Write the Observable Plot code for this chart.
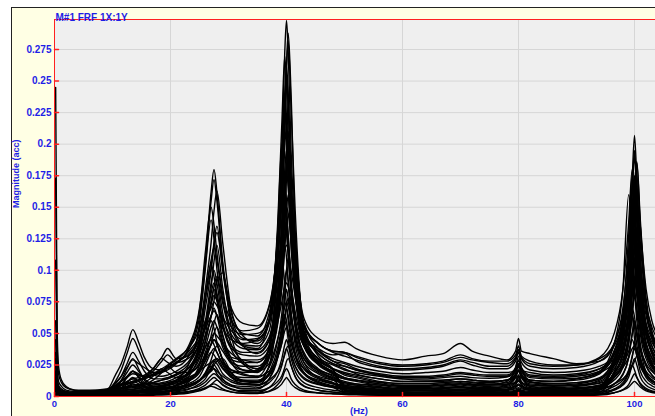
<!DOCTYPE html>
<html><head><meta charset="utf-8">
<script src="https://cdn.jsdelivr.net/npm/d3@7"></script>
<script src="https://cdn.jsdelivr.net/npm/@observablehq/plot@0.6"></script>
<style>
html,body{margin:0;padding:0;background:#fff;width:655px;height:416px;overflow:hidden;}
#panel{position:absolute;left:11px;top:7px;width:644px;height:409px;background:#ffffe4;border-top:1px solid #222;border-left:1px solid #222;box-sizing:border-box;}
#chart{position:absolute;left:0;top:0;}
</style></head><body><div id="panel"></div><div id="chart"></div>
<script>
// Frequency grid (Hz)
const freq = [0.2,0.45,0.7,1.2,2,3.5,6,9,
 10.5,11.5,12.5,13.5,14.5,15.5,17,18.5,19.5,21,23,25,
 26,27,27.5,28,29,30.5,32.5,35,37,
 38.5,39.2,39.7,40,40.3,40.8,41.5,43,45.5,48,
 50,52,56,60,64,67,70,72,75,78,79.5,80,80.5,82,86,90,94,
 96.5,98,99,99.6,100,100.4,101,102,103,104];

// FRF magnitudes, in thousandths of the y unit
const c01 = [245,55,24,13,8,5,4,5, 11,16,23,29,26,23,19,20,24,29,39,70, 107,162,180,162,107,66,50,48,66, 129,194,273,298,273,194,129,58,38,28, 24,21,17,14,13,13,14,13,12,13,17,21,17,13,12,14,19, 33,57,103,160,190,160,103,64,48,39];
const c02 = [173,42,18,11,7,5,5,6, 9,12,15,18,17,16,17,19,21,26,37,68, 114,150,136,114,81,60,52,54,71, 120,163,218,263,288,238,130,62,46,42, 43,38,32,29,32,34,42,36,32,29,36,46,36,34,30,26,28, 40,62,105,165,195,165,110,72,55,45];
const c03 = [108,28,12,8,5,4,4,5, 17,26,39,53,43,31,22,21,23,27,36,63, 104,155,172,155,104,62,46,44,60, 139,217,270,247,202,147,104,52,34,26, 22,18,14,12,12,12,14,13,12,13,20,25,20,13,12,13,18, 36,60,110,172,207,172,110,68,50,40];
const c04 = [60,18,9,6,4,3,3,4, 8,10,12,14,15,17,22,30,27,24,31,52, 85,122,147,163,122,68,48,42,58, 117,172,240,262,240,172,117,50,34,26, 24,21,17,15,15,16,18,17,16,16,22,28,22,16,15,16,20, 36,65,128,175,148,110,75,48,36,30];
const c05 = [45,14,8,5,4,3,3,4, 8,10,11,12,13,15,22,31,38,30,32,46, 77,108,118,108,77,55,49,50,60, 131,196,240,221,183,137,101,48,38,33, 34,28,23,21,22,24,28,25,22,22,28,35,27,21,19,20,24, 33,52,78,110,138,160,122,70,48,38];
const c06 = [30,10,6,4,3,2.5,3,4, 10,16,26,35,28,20,14,14,15,18,25,45, 79,105,95,79,56,40,35,35,45, 96,141,197,215,197,141,96,45,30,22, 18,16,12,10,10,11,12,11,10,11,18,24,18,11,10,11,15, 30,52,80,118,157,185,135,72,46,34];
const c07 = [20,8,5,4,3,3,3,4, 7,9,10,12,13,15,18,22,25,30,38,55, 78,102,120,130,102,70,58,56,72, 127,185,225,208,174,132,100,58,42,36, 35,32,27,25,26,28,33,30,28,28,33,40,32,28,25,25,30, 42,70,115,150,130,105,78,55,43,36];
const c08 = [15,6,4,3,2,2,2,3, 7,12,19,25,20,14,10,10,11,13,19,36, 56,82,90,82,56,38,33,32,40, 80,119,165,180,165,119,80,40,26,19, 15,13,10,8,8,9,10,9,8,9,15,21,15,9,8,9,12, 25,44,80,126,150,126,80,48,34,27];
const c09 = [12,5,3,2,2,1.5,2,3, 5,6,8,10,9,11,16,22,19,15,18,30, 44,64,70,64,44,31,29,27,37, 63,88,120,147,160,129,84,40,25,18, 14,12,9,7,7,8,9,8,7,8,12,17,12,8,7,8,11, 22,38,70,110,130,110,70,42,30,23];
const c10 = [10,4,3,2,1.5,1.2,1.5,2.5, 5,9,15,20,16,11,8,8,9,10,13,22, 31,42,50,55,42,27,24,24,34, 63,92,128,140,128,92,63,33,21,15, 12,10,8,6,6,7,8,7,6,7,11,15,11,7,6,7,9, 18,30,47,68,92,110,80,42,27,20];
const c11 = [8,3.5,2.5,2,1.5,1,1.2,2, 4,4.5,5,5.5,6,6,6.5,7,7.5,9,12,19, 29,41,45,41,29,21,19,20,31, 63,97,120,110,90,66,47,27,18,13, 10,9,7,5,5,6,7,6,5.5,6,8,10,8,6,5,6,8, 15,27,50,80,95,80,50,30,21,16];
const c12 = [25,9,5,4,3,3,3,4, 7,9,10,11,13,14,17,20,22,27,35,48, 60,70,75,72,63,52,45,46,58, 98,124,145,150,145,124,98,55,42,35, 32,29,24,22,23,25,29,27,24,24,30,37,30,24,22,23,28, 42,65,90,120,150,175,135,85,60,48];
const c13 = [6,3,2,1.5,1,1,1,1.5, 4,7,11,15,12,8,6,6,6.5,7.5,10,16, 25,35,38,35,25,17,15,15,23, 45,66,92,100,92,66,45,24,15,11, 8,7,5.5,4.5,4.5,5,6,5,4.5,5,7,9,7,5,4.5,5,7, 13,23,42,67,80,67,42,25,17,13];
const c14 = [5,2.5,1.8,1.3,1,0.8,1,1.3, 3,3.3,3.6,4,4.2,4.5,5,5.5,6,7,9,13, 17,23,27,30,23,15,12,12,17, 31,43,59,72,78,63,41,22,14,10, 7,6,4.5,3.5,3.5,4,4.5,4,3.5,4,5,6,5,4,3.5,4,5.5, 15,26,47,65,55,41,28,18,13,10];
const c15 = [4,2,1.3,1,0.8,0.6,0.8,1, 2.5,4.5,7.5,10,8,5.5,4,4,4.5,5.5,7.5,12, 18,24,22,18,13,9,8,8.5,14, 31,48,60,55,45,33,24,15,10,7, 5.5,4.5,3.5,2.5,2.5,3,3.5,3,2.5,3,4,5,4,3,2.5,3,4, 8,13,21,31,42,50,37,19,13,10];
const c16 = [35,11,6,4,3,2.5,3,4, 12,21,34,46,37,26,17,16,17,20,27,42, 55,74,87,95,74,49,41,40,52, 110,155,212,259,282,227,147,52,36,28, 26,22,18,16,16,17,19,18,17,17,23,29,23,17,16,17,22, 35,58,92,130,165,186,140,78,52,40];
const c17 = [18,7,4,3,2,2,2,3, 6,7,8,9,9.5,10,11,13,14,17,22,35, 48,63,76,91,98,55,40,38,62, 133,200,162,133,111,87,67,40,28,22, 19,17,14,12,12,13,14,13,12,13,15,16,15,13,12,14,20, 42,85,160,125,88,70,52,36,28,23];
const c18 = [14,6,3.5,2.5,2,1.5,2,3, 5,6,6.5,7,7.5,8,9,10,11,13,17,27, 39,55,60,55,39,29,27,27,38, 86,128,179,195,179,128,86,42,27,20, 15,13,10,8,8,9,10,9,9,12,23,32,23,12,9,9,13, 27,48,88,138,165,138,88,52,37,29];
const c19 = [3,1.5,1,0.8,0.6,0.5,0.6,0.8, 1.8,2,2.2,2.4,2.6,2.8,3.2,3.6,4,4.6,6,8.5, 11.5,16.5,18,16.5,11.5,8,6.5,7,11, 20,30,41,45,41,30,20,11,7,5, 4,3.5,2.7,2.2,2.2,2.4,2.8,2.5,2.3,2.4,3.5,4.5,3.5,2.4,2.2,2.4,3.3, 6,11,20,32,38,32,20,12,8.5,6.5];
const c20 = [2,1,0.7,0.5,0.4,0.3,0.4,0.5, 1,1.1,1.2,1.3,1.5,1.6,1.9,2.2,2.5,3,4,5.5, 7,9.5,11.5,13,9.5,6,4.5,4.5,7, 12,16.5,23,28,30,24.5,15.5,8,5,3.5, 2.6,2.2,1.7,1.3,1.3,1.4,1.7,1.5,1.4,1.5,2,2.6,2,1.5,1.3,1.4,2, 5.5,9.5,18,25,21,15.5,10.5,6.5,4.5,3.5];
const c21 = [20,8,5,4,3,3,3,4, 7,9,10,11,13,14,17,20,23,27,33,45, 54,64,68,64,54,45,42,45,60, 122,171,231,250,231,171,122,56,42,36, 35,31,26,24,25,27,31,29,27,26,31,37,31,26,24,25,31, 50,85,138,180,155,120,85,58,46,38];
const c22 = [10,5,3,2.5,2,1.5,2,3, 5,6,7,8,8.5,9,10,11,12,15,22,42, 70,100,122,135,100,60,40,34,44, 82,115,158,193,210,169,109,45,30,22, 17,15,11,9,9,10,11,10,9.5,10,16,20,16,10,9,10,14, 30,52,95,148,175,148,95,56,40,31];
const c23 = [7,3,2,1.5,1.2,1,1.2,2, 4,6.5,9.5,12,10,7.5,6,6.5,7,8.5,12,20, 35,45,41,35,26,19,19,21,32, 58,86,119,130,119,86,58,30,19,14, 11,9,7,6,6,6.5,7,6.5,6.5,9,18,26,18,8,6,6.5,9, 19,34,63,100,120,100,63,37,26,20];
const c24 = [4,2,1.4,1,0.8,0.6,0.8,1.2, 2.7,3,3.3,3.6,4,4.2,4.8,5.4,6,7,9,13, 18,26,28,26,18,13,10.5,11,17, 32,47,64,70,64,47,32,18,11,8, 6.5,5.5,4.5,3.5,3.5,4,4.5,4,4,5.5,10,14,10,5,3.8,4,5.5, 10,17,31,49,58,49,31,18,13,10];
const c25 = [9,3,2,1.3,1,0.8,1,1.5, 2.5,3,3.5,4,4.5,5,6,7.5,9,13,24,58, 101,140,125,101,66,41,28,22,38, 114,183,230,210,170,120,82,44,26,18, 8,6.5,4.5,3.5,3,3.2,3.5,3.2,3,3.2,4.5,6,4.5,3.2,3,3.8,6, 27,49,100,140,117,84,55,34,24,18];
const c26 = [5,2,1.3,1,0.7,0.5,0.7,1.2, 8,13,22,30,22,13,7,5.5,6,9,17,38, 56,86,107,120,86,47,26,20,33, 67,99,140,173,190,151,93,47,27,19, 7,5.5,3.8,2.8,2.4,2.3,2.4,2.2,2.1,2.2,3,4,3,2.3,2.3,3,5.5, 19,33,57,92,110,92,57,33,23,17];
const c27 = [4,1.8,1.2,0.9,0.7,0.5,0.7,1.2, 2,2.3,2.6,3,3.3,3.6,4.5,5.5,6.5,9,15,33, 49,76,85,76,49,30,21,19,40, 104,162,232,255,232,162,104,56,32,22, 7,6,4.2,3.2,2.8,2.6,2.6,2.4,2.3,2.3,3,3.6,3,2.5,2.8,3.8,7, 28,50,88,142,170,142,88,51,35,26];
const c28 = [3,1.4,1,0.7,0.5,0.4,0.5,0.9, 5.5,9,15,20,15,9,5,4,4.5,6.5,11,25, 43,60,54,43,29,18,13,12,24, 83,135,170,155,125,88,60,33,20,14, 5,4,3,2.2,1.8,1.7,1.8,1.7,1.6,1.7,2.2,2.8,2.2,1.8,2,2.8,5, 24,37,60,91,126,150,107,54,34,25];
const c29 = [2,0.9,0.6,0.5,0.4,0.3,0.4,0.6, 1,1.2,1.4,1.6,1.8,2,2.5,3,3.5,5,7.5,13, 19,29,36,40,29,16,10,9,19, 39,57,81,100,110,87,54,27,15,11, 4,3,2,1.4,1.1,1,1,1,1,1.1,1.4,1.8,1.4,1.2,1.4,2,3.5, 19,35,71,100,83,60,39,24,17,13];
const c30 = [2,0.8,0.6,0.4,0.3,0.25,0.3,0.5, 0.8,0.9,1,1.2,1.3,1.5,1.9,2.4,2.8,3.8,5.5,10, 14,22,25,22,14,9,6,6,14, 35,54,77,85,77,54,35,19,11,7.5, 3,2.4,1.6,1.2,1,0.9,0.9,0.9,0.9,1,1.3,1.6,1.3,1.1,1.1,1.5,2.5, 10,18,31,50,60,50,31,18,12.5,9.5];
const c31 = [6,3.5,2.5,2,1.8,1.8,2.2,3.5, 5,6,7,8,9,10,11,13,14,17,22,31, 39,46,50,48,42,34,29,29,36, 59,75,87,90,87,75,59,40,30,25, 21,19,16,14,14,15,16,15,14.5,15.5,21,26,21,15,14,14.5,19, 27,40,60,80,90,82,62,42,31,25];
const c32 = [3,0.8,0.5,0.35,0.25,0.2,0.25,0.4, 0.6,0.7,0.8,0.9,1,1.1,1.4,1.7,2,2.6,3.7,6.5, 9,13.5,15,13.5,9,5.5,3.8,3.5,7, 16,24.5,34.5,38,34.5,24.5,16,8.5,5,3.5, 2.5,2,1.4,1,0.85,0.8,0.8,0.8,0.75,0.8,1,1.3,1,0.85,0.9,1.1,1.8, 5,9,15.5,25,30,25,15.5,9,6.3,4.8];
const c33 = [12,5,3.5,2.6,2.2,2.2,2.8,4.5, 8,12,16,20,18,16,20,28,33,27,30,42, 58,73,80,76,62,46,38,37,47, 79,100,116,120,116,100,79,46,36,30, 27,24,20,18,19,20,23,21,19,19,21,23,21,19,17,18,22, 30,45,63,85,104,120,92,55,40,32];
const c34 = [2,0.6,0.4,0.3,0.2,0.15,0.2,0.3, 0.45,0.5,0.55,0.6,0.7,0.8,1,1.2,1.4,1.8,2.6,4.5, 6,9,10,9,6,3.7,2.5,2.3,4.2, 9.5,14,20,22,20,14,9.5,5,3,2.1, 1.6,1.3,0.95,0.7,0.6,0.55,0.55,0.55,0.55,0.6,0.75,0.9,0.75,0.6,0.6,0.7,1.1, 3,5.5,9.5,15,18,15,9.5,5.5,3.8,2.9];
const c35 = [8,3,2,1.5,1.1,0.9,1.1,1.8, 3,3.5,4,4.5,5,5.5,6.5,7.5,8.5,11,19,40, 59,90,100,90,59,37,26,22,32, 76,120,150,137,112,80,56,35,22,16, 9,7.5,6,5,5,5.2,5.6,5.2,5,5.3,9,13,9,5.5,5,5.8,8, 30,52,102,140,117,86,57,36,26,20];
const c36 = [5,2,1.4,1,0.8,0.6,0.8,1.3, 2,2.3,2.6,3,3.3,3.7,4.5,5.5,6.5,8.5,13,22, 32,48,58,65,48,27,18,16,30, 71,104,147,182,200,159,99,50,29,21, 8,6.5,4.8,3.6,3.2,3.2,3.4,3.2,3.1,3.2,4,5,4,3.3,3.2,3.8,6, 17,27,42,63,85,100,73,38,25,19];
const c37 = [3,2.5,2.5,2.6,2.8,3,3.3,4, 4.5,5,5.5,6,6.5,7,7.5,8.5,9.5,11,14,20, 28,35,33,29,22,16,13,13,18, 35,52,65,60,50,38,28,18,13,10, 9,8,7,6.5,6.5,7,7.5,7,6.5,7,8,9,8,6.5,6,6.5,8, 15,24,36,45,40,33,24,16,12,10];
const c38 = [2,1.8,2,2.3,2.8,3.3,4,5, 6,7,7.5,8,7.5,7.5,8,9,10,12,15,20, 24,27,29,30,27,21,17,16,20, 32,42,52,55,52,42,32,22,16,13, 11,10,9,8.5,8.5,9,10,9.5,9,9.5,11,12,11,9,8.5,9,10.5, 16,23,31,38,40,37,29,20,15,12];
const c39 = [1.5,1.3,1.5,1.8,2,2.4,2.8,3.3, 3.6,3.9,4.2,4.5,4.7,4.9,5.3,5.8,6.3,7.2,9,12.5, 16,20,22,20,16,11.5,9.5,9.5,13, 20,26,33,38,40,34,24,14,9.5,7.5, 6.5,6,5.2,4.7,4.6,4.8,5.2,5,4.8,5,6,7,6,5,4.6,4.8,6, 10,14,19,24,28,32,25,15,10.5,8.5];
const c40 = [1,0.5,0.5,0.6,0.7,0.8,0.9,1, 1.1,1.2,1.3,1.4,1.5,1.6,1.8,2,2.2,2.6,3.4,4.8, 6.5,8,7.5,6.5,5,3.5,2.8,2.8,4, 7,10,13.5,15,13.5,10,7,4,2.8,2.2, 1.9,1.7,1.4,1.3,1.2,1.2,1.3,1.2,1.2,1.2,1.4,1.6,1.4,1.2,1.2,1.3,1.7, 3,5,7.5,10.5,12,10.5,7.5,4.5,3.2,2.5];
const c41 = [2.5,2,2.2,2.5,3,3.5,4.2,5.5, 7,9,11.5,14,12,10,13,19,24,19,19,25, 33,41,45,43,36,26,21,20,26, 46,60,71,75,71,60,46,30,21,17, 14,13,11.5,10.5,10.5,11,12,11.5,11,13,17,20,16,11.5,10.5,11,14, 25,39,56,70,63,51,38,26,20,16];
const c42 = [1.5,0.9,0.9,1,1.1,1.3,1.6,2, 2.2,2.4,2.6,2.8,3,3.2,3.6,4.2,4.8,6,8.5,13, 17,21,25,28,30,19,12,11,24, 70,110,88,72,60,45,33,19,12,8.5, 6.5,5.5,4,3.2,2.9,2.8,2.9,2.8,2.8,2.9,3.4,4,3.4,3,3,3.8,6.5, 20,45,85,66,46,36,26,17,12,9.5];

const curves = [c01,c02,c03,c04,c05,c06,c07,c08,c09,c10,c11,c12,c13,c14,c15,c16,c17,c18,c19,c20,c21,
                c22,c23,c24,c25,c26,c27,c28,c29,c30,c31,c32,c33,c34,c35,c36,c37,c38,c39,c40,c41,c42];

const yTicks = [0,0.025,0.05,0.075,0.1,0.125,0.15,0.175,0.2,0.225,0.25,0.275];
const yTickLabels = ["0","0.025","0.05","0.075","0.1","0.125","0.15","0.175","0.2","0.225","0.25","0.275"];
const xTicks = [0,20,40,60,80,100];
const xTickLabels = ["0","20","40","60","80","100"];
const title = "M#1 FRF 1X:1Y";
const yLabel = "Magnitude (acc)";
const xLabel = "(Hz)";
const xMax = 103.62;
const yMax = 0.2988;

curves.forEach((c, i) => { if (c.length !== freq.length) throw new Error(`curve ${i + 1} has ${c.length} values, expected ${freq.length}`); });
const rows = curves.flatMap((c, i) => c.map((v, j) => ({id: i, f: freq[j], m: v / 1000})));

const blue = "#1e1ee6";
const red = "#ff2020";
const tickShape = {draw(ctx, l) { ctx.moveTo(0, 0); ctx.lineTo(0, -l); }};
const font = {fill: blue, fontWeight: "bold"};

const chart = Plot.plot({
  width: 655, height: 416,
  marginLeft: 54, marginTop: 19, marginBottom: 20, marginRight: 0,
  style: {background: "transparent", fontFamily: "'Liberation Sans', Arial, sans-serif", overflow: "visible"},
  x: {domain: [0, xMax]},
  y: {domain: [0, yMax]},
  marks: [
    Plot.frame({fill: "#efefef", stroke: null}),
    Plot.gridX(xTicks, {stroke: "#d6d6d6", strokeOpacity: 1}),
    Plot.gridY(yTicks, {stroke: "#d6d6d6", strokeOpacity: 1}),
    Plot.line(rows, {x: "f", y: "m", z: "id", stroke: "#000", strokeWidth: 1.4, curve: "monotone-x", clip: true}),
    Plot.ruleX([0], {stroke: red}),
    Plot.ruleY([0], {stroke: red}),
    Plot.ruleY([yMax], {stroke: red}),
    Plot.vector(yTicks, {x: 0, y: d => d, rotate: 90, length: 4, anchor: "start", stroke: red, shape: tickShape}),
    Plot.vector(xTicks, {x: d => d, y: 0, length: 4, anchor: "start", stroke: red, shape: tickShape}),
    Plot.axisY(yTicks, {tickSize: 0, tickPadding: 3, color: blue, fontWeight: "bold", fontSize: 10, label: null,
      tickFormat: d => yTickLabels[yTicks.indexOf(d)]}),
    Plot.axisX(xTicks, {tickSize: 0, tickPadding: 4, color: blue, fontWeight: "bold", fontSize: 9.5, label: null,
      tickFormat: d => xTickLabels[xTicks.indexOf(d)]}),
    Plot.text([title], {text: d => d, frameAnchor: "top-left", dx: 1, dy: -6, textAnchor: "start", fontSize: 10, ...font}),
    Plot.text([yLabel], {text: d => d, frameAnchor: "left", rotate: -90, dx: -38, fontSize: 9, ...font}),
    Plot.text([xLabel], {text: d => d, frameAnchor: "bottom", dx: 4, dy: 17, fontSize: 9.5, ...font})
  ]
});
document.getElementById("chart").appendChild(chart);
</script>
</body></html>
